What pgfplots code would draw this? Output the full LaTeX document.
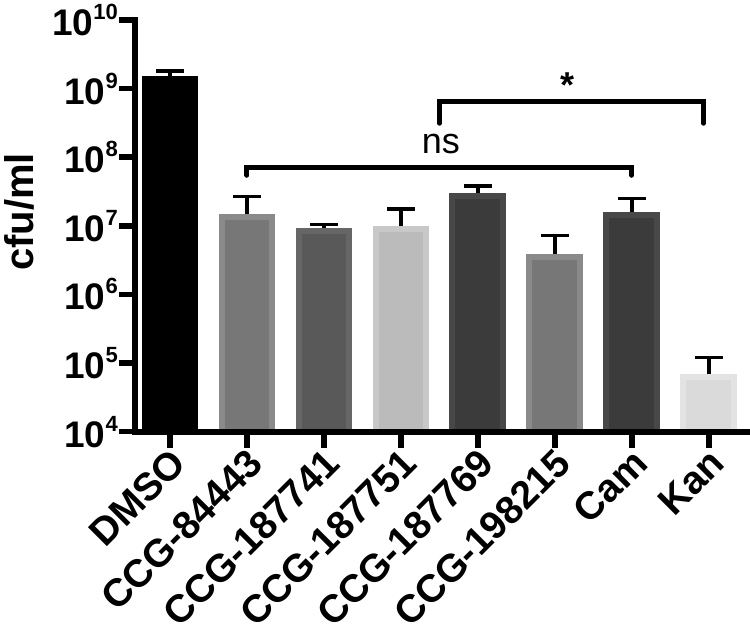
\documentclass[border=0pt]{standalone}
\usepackage{pgfplots}
\pgfplotsset{compat=1.18}
\usepackage{fontspec}
\setmainfont{Liberation Sans}
\newcommand\tenp[1]{10\raisebox{16pt}{\fontsize{22}{22}\selectfont #1}}
\definecolor{gA}{HTML}{777777}\definecolor{gAb}{HTML}{8A8A8A}
\definecolor{gB}{HTML}{595959}\definecolor{gBb}{HTML}{666666}
\definecolor{gC}{HTML}{BBBBBB}\definecolor{gCb}{HTML}{C8C8C8}
\definecolor{gD}{HTML}{3B3B3B}\definecolor{gDb}{HTML}{484848}
\definecolor{gE}{HTML}{DADADA}\definecolor{gEb}{HTML}{E3E3E3}
\pgfplotsset{mybar/.style={ybar, bar width=0.66, bar shift=0pt, line width=6pt}}
% x, mean, top of error bar
\pgfplotstableread{
x val top
0 1.38e9 1.80e9
1 1.34e7 2.70e7
2 8.3e6 1.05e7
3 9.1e6 1.76e7
4 2.75e7 3.80e7
5 3.47e6 7.20e6
6 1.44e7 2.50e7
7 6.3e4 1.20e5
}\errtab
\begin{document}
\begin{tikzpicture}
\begin{axis}[
  at={(0,0)}, anchor=south west,
  scale only axis, width=613pt, height=411.7pt,
  ymode=log, ymin=1e4, ymax=1e10, log origin=infty,
  xmin=-0.455, xmax=7.51,
  axis x line*=bottom, axis y line*=left,
  axis line style={line width=6pt, line cap=rect},
  axis on top,
  tick align=outside, major tick length=16pt,
  tick style={line width=5.5pt, black},
  yminorticks=false,
  xtick={0,...,7},
  xticklabels={DMSO,CCG-84443,CCG-187741,CCG-187751,CCG-187769,CCG-198215,Cam,Kan},
  xticklabel style={font=\bfseries\fontsize{39}{39}\selectfont, rotate=45, anchor=north east, inner sep=0pt, yshift=2pt},
  ytick={1e4,1e5,1e6,1e7,1e8,1e9,1e10},
  yticklabels={\tenp{4},\tenp{5},\tenp{6},\tenp{7},\tenp{8},\tenp{9},\tenp{10}},
  yticklabel style={font=\bfseries\fontsize{37}{37}\selectfont, anchor=east, inner sep=1pt},
  ylabel={cfu/ml},
  ylabel style={font=\bfseries\fontsize{40}{40}\selectfont, at={(axis description cs:-0.189,0.534)}, anchor=center},
]
% error bar stems (drawn behind the bars, from the axis to the top of the error)
\addplot[ycomb, line width=3.5pt, black, no marks] table[x=x, y=top] {\errtab};
\addplot[mybar, fill=black, draw=black] coordinates {(0,1.38e9)};
\addplot[mybar, fill=gA, draw=gAb] coordinates {(1,1.34e7)};
\addplot[mybar, fill=gB, draw=gBb] coordinates {(2,8.3e6)};
\addplot[mybar, fill=gC, draw=gCb] coordinates {(3,9.1e6)};
\addplot[mybar, fill=gD, draw=gDb] coordinates {(4,2.75e7)};
\addplot[mybar, fill=gA, draw=gAb] coordinates {(5,3.47e6)};
\addplot[mybar, fill=gD, draw=gDb] coordinates {(6,1.44e7)};
\addplot[mybar, fill=gE, draw=gEb] coordinates {(7,6.3e4)};
% error bar caps
\addplot[only marks, mark=-, mark size=14pt, mark options={line width=3.5pt, black}] table[x=x, y=top] {\errtab};
\draw[line width=5pt, line cap=round, line join=miter] (axis cs:1,5.46e7) -- (axis cs:1,7.15e7) -- (axis cs:6,7.15e7) -- (axis cs:6,5.46e7);
\draw[line width=5pt, line cap=round, line join=miter] (axis cs:3.5,3.13e8) -- (axis cs:3.5,6.4e8) -- (axis cs:6.93,6.4e8) -- (axis cs:6.93,3.13e8);
\node[font=\fontsize{36}{36}\selectfont, anchor=center] at (axis cs:3.52,1.55e8) {ns};
\node[font=\bfseries\fontsize{36}{36}\selectfont, anchor=base] at (axis cs:5.17,7.5e8) {*};
\end{axis}
\pgfresetboundingbox
\useasboundingbox (-135pt,-209.3pt) rectangle (615pt,431.7pt);
\end{tikzpicture}
\end{document}
